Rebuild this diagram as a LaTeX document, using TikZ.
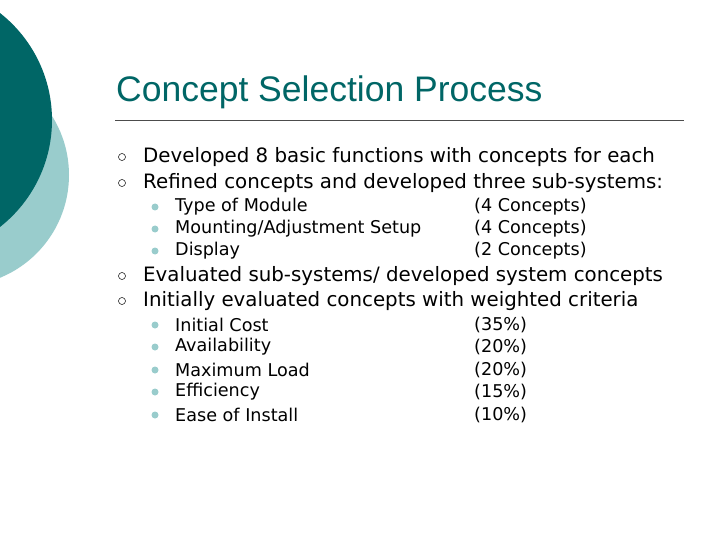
\documentclass[tikz,border=0pt]{standalone}
\usepackage{fontspec}
\setmainfont{DejaVu Sans}
\newfontfamily\titlefont{Liberation Sans}
\definecolor{darkteal}{HTML}{006666}
\definecolor{lightteal}{HTML}{99CCCC}
\begin{document}
\begin{tikzpicture}[x=1pt,y=-1pt,
  body/.style={anchor=west,inner sep=0pt,font=\fontsize{19.8}{22}\selectfont},
  sub/.style={anchor=west,inner sep=0pt,font=\fontsize{17.6}{20}\selectfont},
  obul/.style={circle,draw=black,line width=0.5pt,minimum size=7pt,inner sep=0pt},
  fbul/.style={circle,fill=lightteal,minimum size=7pt,inner sep=0pt}]
\useasboundingbox (0,0) rectangle (720,540);
\fill[white] (0,0) rectangle (720,540);
\begin{scope}
\clip (0,0) rectangle (720,540);
\fill[lightteal] (-42,175) circle (111);
\fill[darkteal] (-84,120) circle (136);
\end{scope}
\node[anchor=base west,inner sep=0pt,text=darkteal,font=\titlefont\fontsize{35.5}{40}\selectfont] (title) at (116,102) {Concept Selection Process};
\coordinate (l1) at (115,120); \coordinate (l2) at (684,120);
\draw[line width=0.8pt,black!70] (l1) -- (l2);
\foreach \y/\t [count=\i] in {157/{Developed 8 basic functions with concepts for each},183/{Refined concepts and developed three sub-systems:},276/{Evaluated sub-systems/ developed system concepts},301/{Initially evaluated concepts with weighted criteria}}{
  \node[obul] (b\i) at (122,\y) {};
  \node[body] (m\i) at (143,\y) {\t};
}
\foreach \y/\a/\b [count=\i] in {207/{Type of Module}/{(4 Concepts)},229/{Mounting/Adjustment Setup}/{(4 Concepts)},251/{Display}/{(2 Concepts)},325/{Initial Cost}/{(35\%)},347/{Availability}/{(20\%)},370/{Maximum Load}/{(20\%)},392/{Efficiency}/{(15\%)},415/{Ease of Install}/{(10\%)}}{
  \node[fbul] (s\i) at (155,\y) {};
  \node[sub] (sa\i) at (175,\y) {\a};
  \node[sub] (sb\i) at (474,\y) {\b};
}
\end{tikzpicture}
\end{document}
